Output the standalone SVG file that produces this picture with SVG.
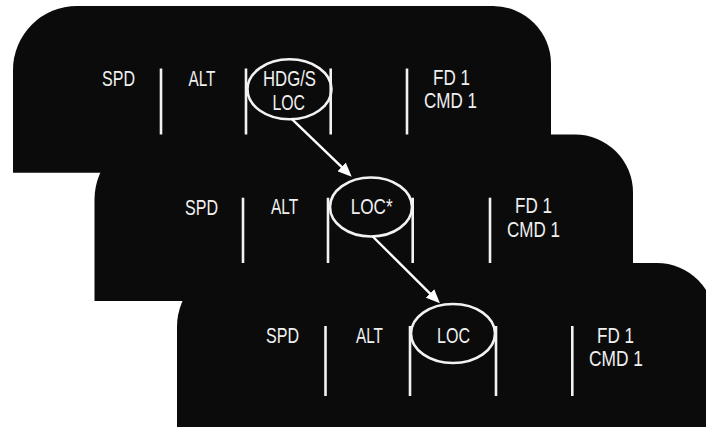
<svg xmlns="http://www.w3.org/2000/svg" width="706" height="427" viewBox="0 0 706 427">
  <style>
    .panel { fill: #0b0b0c; }
    .sep { stroke: #f2f2f2; stroke-width: 2.6; fill: none; }
    .mode { stroke: #f2f2f2; stroke-width: 2.6; fill: none; }
    .t { font-family: "Liberation Sans", Arial, sans-serif; font-size: 21.5px; fill: #f0f0f0; }
    .conn { stroke: #ffffff; stroke-width: 2.4; fill: none; }
  </style>
  <defs>
    <marker id="ah" viewBox="0 0 14 12" markerWidth="14" markerHeight="12" refX="9" refY="6" orient="auto" markerUnits="userSpaceOnUse">
      <path d="M0,0 L14,6 L0,12 Z" fill="#ffffff"/>
    </marker>
  </defs>
  <rect width="706" height="427" fill="#ffffff"/>

  <g id="panel1">
    <path class="panel" d="M13,172.7 V70 A64,64 0 0 1 77,6 H493 A58,58 0 0 1 551,64 V172.7 Z"/>
    <line class="sep" x1="161" y1="68.5" x2="161" y2="139"/>
    <line class="sep" x1="246" y1="68.5" x2="246" y2="139"/>
    <line class="sep" x1="330.7" y1="68.5" x2="330.7" y2="139"/>
    <line class="sep" x1="407" y1="68.5" x2="407" y2="139"/>
    <text class="t" x="102" y="86" textLength="33" lengthAdjust="spacingAndGlyphs">SPD</text>
    <text class="t" x="188.5" y="86" textLength="27" lengthAdjust="spacingAndGlyphs">ALT</text>
    <g id="mode1">
      <ellipse class="mode" cx="289.5" cy="89.3" rx="42" ry="30"/>
      <text class="t" x="263" y="86.3" textLength="53" lengthAdjust="spacingAndGlyphs">HDG/S</text>
      <text class="t" x="272.4" y="110" textLength="32.6" lengthAdjust="spacingAndGlyphs">LOC</text>
    </g>
    <text class="t" x="433" y="85.3" textLength="37" lengthAdjust="spacingAndGlyphs">FD 1</text>
    <text class="t" x="424" y="108.3" textLength="53" lengthAdjust="spacingAndGlyphs">CMD 1</text>
  </g>

  <g id="panel2">
    <path class="panel" d="M94.5,301 V199.5 A65,65 0 0 1 159.5,134.5 H575 A58,58 0 0 1 633,192.5 V301 Z"/>
    <line class="sep" x1="243" y1="197.7" x2="243" y2="267"/>
    <line class="sep" x1="328" y1="197.7" x2="328" y2="267"/>
    <line class="sep" x1="412.7" y1="197.7" x2="412.7" y2="267"/>
    <line class="sep" x1="490" y1="197.7" x2="490" y2="267"/>
    <text class="t" x="185" y="215" textLength="33" lengthAdjust="spacingAndGlyphs">SPD</text>
    <text class="t" x="271" y="213.5" textLength="27.3" lengthAdjust="spacingAndGlyphs">ALT</text>
    <g id="mode2">
      <ellipse class="mode" cx="371" cy="207" rx="41" ry="29.5"/>
      <text class="t" x="350.7" y="214.3" textLength="42" lengthAdjust="spacingAndGlyphs">LOC*</text>
    </g>
    <text class="t" x="515" y="213" textLength="37" lengthAdjust="spacingAndGlyphs">FD 1</text>
    <text class="t" x="507" y="236.8" textLength="53" lengthAdjust="spacingAndGlyphs">CMD 1</text>
  </g>

  <g id="panel3">
    <path class="panel" d="M177,432 V327 A64,64 0 0 1 241,263 H657 A58,58 0 0 1 715,321 V432 Z"/>
    <line class="sep" x1="325.5" y1="326" x2="325.5" y2="396"/>
    <line class="sep" x1="410" y1="326" x2="410" y2="396"/>
    <line class="sep" x1="496" y1="326" x2="496" y2="396"/>
    <line class="sep" x1="572.3" y1="326" x2="572.3" y2="396"/>
    <text class="t" x="266" y="343" textLength="33" lengthAdjust="spacingAndGlyphs">SPD</text>
    <text class="t" x="356" y="343" textLength="27" lengthAdjust="spacingAndGlyphs">ALT</text>
    <g id="mode3">
      <ellipse class="mode" cx="453" cy="333.5" rx="42" ry="29.5"/>
      <text class="t" x="437" y="343" textLength="33" lengthAdjust="spacingAndGlyphs">LOC</text>
    </g>
    <text class="t" x="597" y="342.7" textLength="37" lengthAdjust="spacingAndGlyphs">FD 1</text>
    <text class="t" x="589" y="366" textLength="54" lengthAdjust="spacingAndGlyphs">CMD 1</text>
  </g>

  <g id="connectors">
    <line class="conn" x1="291.7" y1="118.8" x2="348.1" y2="173.2" marker-end="url(#ah)"/>
    <line class="conn" x1="372.7" y1="236.5" x2="436.4" y2="299.8" marker-end="url(#ah)"/>
  </g>
</svg>
